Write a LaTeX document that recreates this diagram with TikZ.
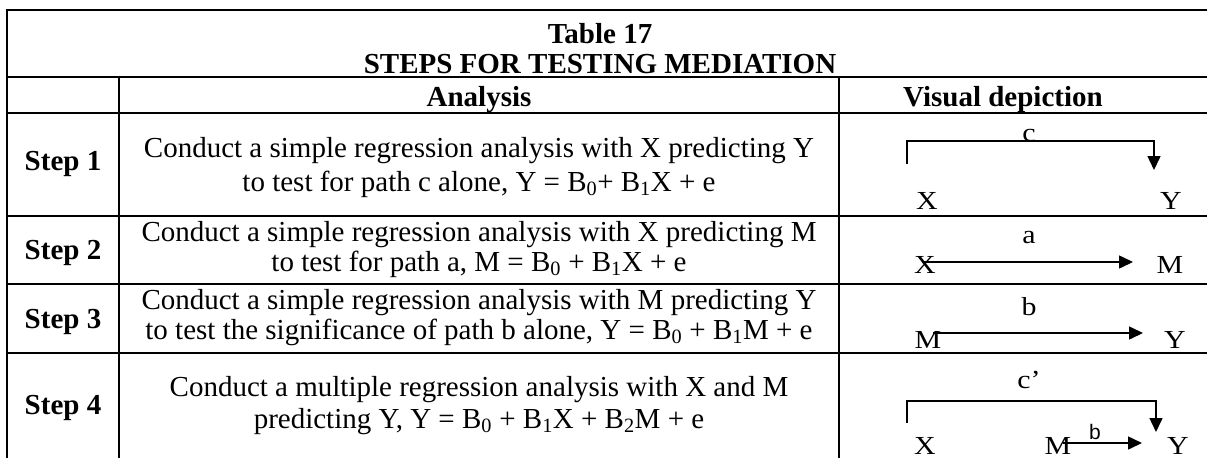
\documentclass[tikz,border=0pt]{standalone}
\usepackage{fontspec}
\setmainfont{Liberation Serif}
\newfontfamily\arialfont{Liberation Sans}
\usetikzlibrary{arrows.meta}
\newcommand\stretchx[1]{\scalebox{1.15}[1]{#1}}
\begin{document}
\begin{tikzpicture}[x=1pt,y=-1pt,
  rule/.style={line width=2pt},
  txt/.style={anchor=base, inner sep=0pt, font=\fontsize{29}{34}\selectfont},
  hd/.style={anchor=base, inner sep=0pt, font=\fontsize{29}{34}\selectfont\bfseries},
  var/.style={anchor=base, inner sep=0pt, font=\fontsize{26}{30}\selectfont},
  smallb/.style={anchor=base, inner sep=0pt, font=\fontsize{21}{25}\arialfont},
  pathline/.style={line width=1.5pt, -{Triangle[length=14pt,width=13pt]}},
  pathbar/.style={line width=1.5pt}]
\useasboundingbox (0,0) rectangle (1207,458);
% table rules
\draw[rule] (7,458) -- (7,10) -- (1207,10);
\draw[rule] (7,77) -- (1207,77);
\draw[rule] (7,113) -- (1207,113);
\draw[rule] (7,216) -- (1207,216);
\draw[rule] (7,284) -- (1207,284);
\draw[rule] (7,353) -- (1207,353);
\draw[rule] (119,77) -- (119,458);
\draw[rule] (839,77) -- (839,458);
% title and headers
\node[hd] (t1) at (600,43) {Table 17};
\node[hd] (t2) at (600,73) {STEPS FOR TESTING MEDIATION};
\node[hd] (hA) at (479,106) {Analysis};
\node[hd] (hV) at (1003,106) {Visual depiction};
% step labels
\node[hd] (s1) at (63,170) {Step 1};
\node[hd] (s2) at (63,259) {Step 2};
\node[hd] (s3) at (63,328) {Step 3};
\node[hd] (s4) at (63,414) {Step 4};
% analysis text
\node[txt] (a1a) at (479,157) {Conduct a simple regression analysis with X predicting Y};
\node[txt] (a1b) at (479,191) {to test for path c alone, Y = B\textsubscript{0}+ B\textsubscript{1}X + e};
\node[txt] (a2a) at (479,241) {Conduct a simple regression analysis with X predicting M};
\node[txt] (a2b) at (479,271) {to test for path a, M = B\textsubscript{0} + B\textsubscript{1}X + e};
\node[txt] (a3a) at (479,309) {Conduct a simple regression analysis with M predicting Y};
\node[txt] (a3b) at (479,339) {to test the significance of path b alone, Y = B\textsubscript{0} + B\textsubscript{1}M + e};
\node[txt] (a4a) at (479,396) {Conduct a multiple regression analysis with X and M};
\node[txt] (a4b) at (479,428) {predicting Y, Y = B\textsubscript{0} + B\textsubscript{1}X + B\textsubscript{2}M + e};
% step 1 diagram
\node[var] (x1) at (927,209) {\stretchx{X}};
\node[var] (y1) at (1171,209) {\stretchx{Y}};
\node[var] (c1) at (1029,141) {\stretchx{c}};
\coordinate (c1s) at (907,164);
\coordinate (c1a) at (907,141);
\coordinate (c1b) at (1154,141);
\coordinate (c1e) at (1154,170);
\draw[pathline] (c1s) -- (c1a) -- (c1b) -- (c1e);
% step 2 diagram
\node[var] (x2) at (925,273) {\stretchx{X}};
\node[var] (m2) at (1170,273) {\stretchx{M}};
\node[var] (lab2) at (1029,243) {\stretchx{a}};
\coordinate (a2s) at (922,262);
\coordinate (a2e) at (1133,262);
\draw[pathline] (a2s) -- (a2e);
% step 3 diagram
\node[var] (m3) at (928,348) {\stretchx{M}};
\node[var] (y3) at (1175,348) {\stretchx{Y}};
\node[var] (lab3) at (1029,315) {\stretchx{b}};
\coordinate (b3s) at (933,333);
\coordinate (b3e) at (1143,333);
\draw[pathline] (b3s) -- (b3e);
% step 4 diagram
\node[var] (x4) at (925,454) {\stretchx{X}};
\node[var] (m4) at (1058,454) {\stretchx{M}};
\node[var] (y4) at (1178,454) {\stretchx{Y}};
\node[var] (c4) at (1029,388) {\stretchx{c’}};
\node[smallb] (b4) at (1095,439) {b};
\coordinate (c4s) at (907,423);
\coordinate (c4a) at (907,401);
\coordinate (c4b) at (1156,401);
\coordinate (c4e) at (1156,432);
\draw[pathline] (c4s) -- (c4a) -- (c4b) -- (c4e);
\coordinate (b4s) at (1063,443);
\coordinate (b4e) at (1142,443);
\draw[pathline] (b4s) -- (b4e);
\end{tikzpicture}
\end{document}
